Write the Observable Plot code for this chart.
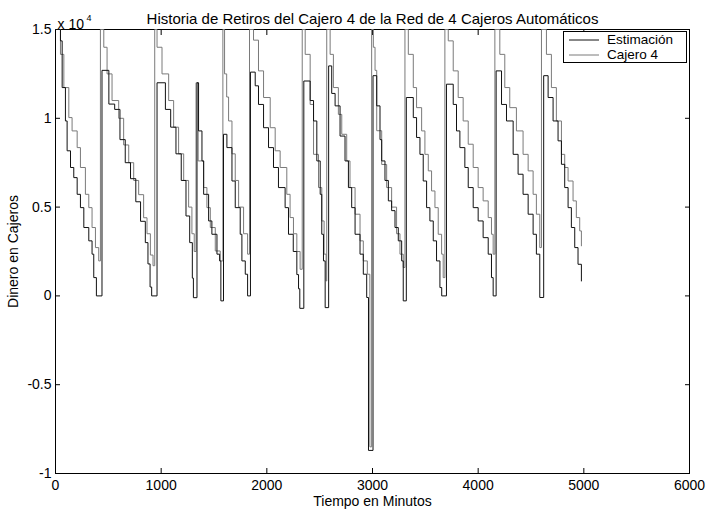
<!DOCTYPE html>
<html>
<head>
<meta charset="utf-8">
<script src="https://cdn.jsdelivr.net/npm/d3@7"></script>
<script src="https://cdn.jsdelivr.net/npm/@observablehq/plot@0.6"></script>
<style>
  html, body { margin: 0; padding: 0; background: #fff; }
  #wrap { position: relative; width: 707px; height: 511px; font-family: "Liberation Sans", Arial, Helvetica, sans-serif; }
  #legend { position: absolute; left: 563px; top: 31px; width: 124px; height: 32px; border: 1px solid #000; background: #fff; box-sizing: border-box; font-size: 13.5px; line-height: 14px; color: #000; }
  .row { position: absolute; left: 0; height: 14px; line-height: 14px; display: flex; align-items: center; }
  .row span { line-height: 14px; display: block; height: 14px; }
  .row svg { margin-left: 5px; margin-right: 8px; }
</style>
</head>
<body>
<div id="wrap"></div>
<script>
// ---- Data ----
const seriesNames = ["Estimación", "Cajero 4"];
const xTicks = [0, 1000, 2000, 3000, 4000, 5000, 6000];
const yTicks = [-10000, -5000, 0, 5000, 10000, 15000];

// [minuto, dinero]
const estimacion = [
  [0,15000],[47,14360],[63,11730],[94,9850],[110,8170],[142,7230],[173,6660],[205,5720],[236,4970],[268,3850],[315,3100],[346,2350],[362,1030],[387,0],
  [440,12700],[505,10800],[560,10500],[610,8800],[660,7500],[710,6600],[760,5300],[805,4200],[850,3000],[875,1800],[895,500],[910,0],
  [961,12000],[1040,10500],[1090,9500],[1140,8000],[1190,6500],[1235,4500],[1270,3000],[1295,1000],[1305,-100],
  [1339,12000],[1354,9290],[1386,7600],[1402,5720],[1449,4220],[1480,3470],[1528,2350],[1553,1970],[1565,-280],
  [1590,9100],[1622,8350],[1670,6470],[1701,4970],[1748,3470],[1764,1970],[1796,1220],[1818,0],
  [1845,12600],[1890,11830],[1921,10780],[1969,9470],[2016,8350],[2063,7230],[2110,6100],[2173,4970],[2205,3470],[2250,2500],[2284,1200],[2300,400],[2312,-700],
  [2350,12100],[2410,11000],[2442,9850],[2473,7600],[2505,5720],[2520,3470],[2536,1970],[2552,-660],
  [2585,12950],[2614,11400],[2646,10700],[2693,9000],[2740,7600],[2772,6100],[2803,4970],[2835,3470],[2882,2350],[2913,1220],[2945,-90],[2962,-8700],
  [3005,12400],[3040,10700],[3071,8800],[3087,7600],[3118,6500],[3150,5350],[3181,4800],[3213,3850],[3244,3100],[3276,1970],[3291,-280],
  [3320,11170],[3386,10040],[3417,8920],[3449,7970],[3480,6470],[3512,4970],[3543,4220],[3575,3100],[3606,1970],[3638,470],[3655,0],
  [3700,11920],[3764,10780],[3795,9290],[3827,8350],[3874,7230],[3906,6100],[3953,4970],[4000,4220],[4047,3280],[4095,2350],[4126,1030],[4142,0],
  [4170,12670],[4221,10780],[4268,9850],[4331,7970],[4378,6850],[4425,5720],[4473,4600],[4520,3470],[4551,2350],[4583,-90],
  [4620,12400],[4662,11170],[4709,9850],[4756,8730],[4788,7410],[4819,6100],[4851,4970],[4882,3850],[4914,2720],[4945,1780],[4977,840]
];

const cajero4 = [
  [0,15000],[47,13600],[79,11730],[126,10040],[157,9290],[205,8350],[236,7230],[283,5720],[315,4970],[346,3850],[378,2720],[409,1970],
  [425,15000],[457,14000],[488,12500],[535,11000],[598,10000],[645,8500],[693,7500],[740,6500],[787,5700],[834,4400],[866,3500],[898,2300],[923,1700],
  [939,15000],[961,14000],[1008,12500],[1071,11000],[1118,9500],[1165,8000],[1213,6500],[1260,5000],[1291,3500],[1313,2500],
  [1330,12000],[1350,7600],[1402,6100],[1433,4970],[1465,3850],[1512,2530],[1559,1970],
  [1584,15000],[1600,12500],[1620,11200],[1638,9850],[1670,8000],[1701,6500],[1733,5000],[1780,3500],[1818,2350],
  [1836,15000],[1874,14400],[1921,12670],[1969,11170],[2032,9470],[2079,8170],[2126,7230],[2189,5720],[2220,4410],[2252,3500],[2284,2500],[2315,1500],
  [2335,15000],[2363,13600],[2410,10780],[2442,7970],[2489,6100],[2520,4220],[2542,2350],[2561,840],
  [2567,15000],[2599,13600],[2630,11730],[2677,10220],[2709,9100],[2756,7600],[2787,6100],[2835,4600],[2882,3100],[2913,1970],[2951,1220],[2975,-8500],
  [2992,15000],[3008,14000],[3024,12700],[3040,9300],[3087,7400],[3134,6100],[3181,5000],[3228,3500],[3260,2350],[3291,1600],
  [3307,15000],[3339,13600],[3386,11730],[3417,10600],[3465,9290],[3496,7970],[3528,7040],[3559,5910],[3591,4970],[3622,3470],[3654,2350],[3669,1030],
  [3685,15000],[3717,14360],[3764,12670],[3811,11170],[3858,9850],[3906,8540],[3953,7230],[4000,6100],[4047,5350],[4095,4410],[4126,3470],[4142,2350],
  [4158,15000],[4205,13600],[4252,11730],[4299,10600],[4362,9290],[4425,7970],[4473,7040],[4520,5720],[4551,4600],[4583,2720],
  [4599,15000],[4646,13600],[4693,11730],[4740,9850],[4788,7970],[4819,7230],[4851,6470],[4898,5350],[4929,4410],[4961,3660],[4977,2820]
];

const seriesColors = ["#111111", "#7a7a7a"];

const font = "Liberation Sans, Arial, Helvetica, sans-serif";
const yFmt = d => String(d / 10000);

const chart = Plot.plot({
  width: 707,
  height: 511,
  marginLeft: 55,
  marginRight: 18,
  marginTop: 29,
  marginBottom: 38,
  style: { fontFamily: font, fontSize: "14px", color: "#000", background: "#fff" },
  x: { domain: [0, 6000] },
  y: { domain: [-10000, 15000] },
  marks: [
    Plot.frame({ stroke: "#000", strokeWidth: 1 }),
    Plot.axisX({ ticks: xTicks, tickSize: -5, tickPadding: 12, tickFormat: d => String(d),
                 label: "Tiempo en Minutos", labelAnchor: "center", labelOffset: 32, labelArrow: "none", fontSize: 14 }),
    Plot.axisX({ anchor: "top", ticks: xTicks, tickSize: -5, tickFormat: () => "", label: null }),
    Plot.axisY({ ticks: yTicks, tickSize: -5, tickPadding: 9, tickFormat: yFmt,
                 label: "Dinero en Cajeros", labelAnchor: "center", labelOffset: 47, labelArrow: "none", fontSize: 14 }),
    Plot.axisY({ anchor: "right", ticks: yTicks, tickSize: -5, tickFormat: () => "", label: null }),
    Plot.line(cajero4, { x: d => d[0], y: d => d[1], curve: "step-after", stroke: seriesColors[1], strokeWidth: 1 }),
    Plot.line(estimacion, { x: d => d[0], y: d => d[1], curve: "step-after", stroke: seriesColors[0], strokeWidth: 1 }),
    Plot.text(["Historia de Retiros del Cajero 4 de la Red de 4 Cajeros Automáticos"],
              { frameAnchor: "top", dy: -16, fontSize: 15, fill: "#000" }),
    Plot.text(["x 10"], { frameAnchor: "top-left", dx: 2, dy: -10, textAnchor: "start", fontSize: 14, fill: "#000" }),
    Plot.text(["4"], { frameAnchor: "top-left", dx: 31, dy: -15, textAnchor: "start", fontSize: 9, fill: "#000" })
  ]
});

const wrap = document.getElementById("wrap");
wrap.appendChild(chart);

// Legend
const legend = document.createElement("div");
legend.id = "legend";
seriesNames.forEach((name, i) => {
  const row = document.createElement("div");
  row.className = "row";
  row.style.top = (1 + i * 15) + "px";
  row.innerHTML = `<svg width="30" height="4"><line x1="0" y1="2" x2="30" y2="2" stroke="${seriesColors[i]}" stroke-width="1"/></svg><span>${name}</span>`;
  legend.appendChild(row);
});
wrap.appendChild(legend);
</script>
</body>
</html>
